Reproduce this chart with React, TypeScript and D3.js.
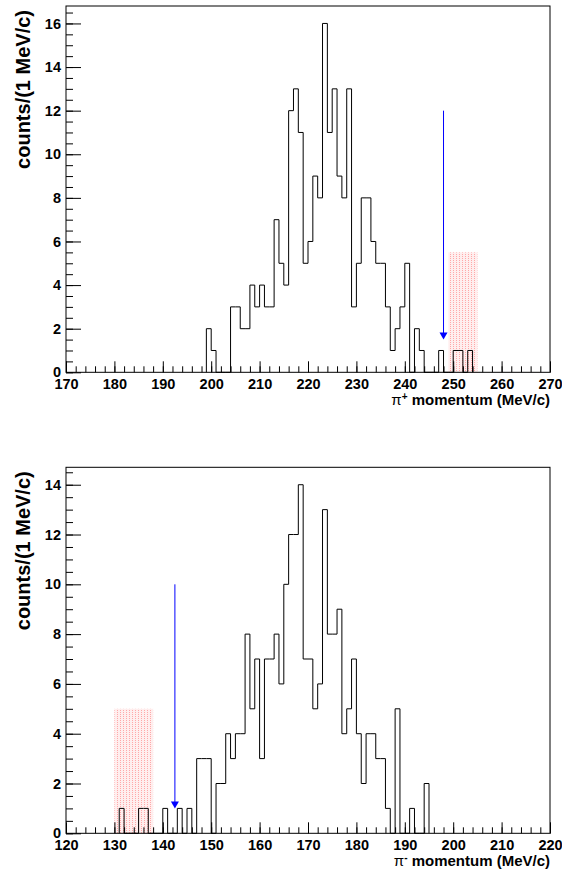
import React, { useEffect, useRef } from 'react';
import * as d3 from 'd3';

// pi+ spectrum, 1 MeV/c bins, first bin starts at 199 MeV/c
const plusFirstBin = 199;
const plusCounts = [2, 1, 0, 0, 0, 3, 3, 2, 2, 4, 3, 4, 3, 3, 7, 5, 4, 12, 13, 11, 5, 6, 9, 8, 16, 11, 13, 9, 8, 13, 3, 5, 8, 8, 6, 5, 5, 3, 1, 2, 3, 5, 0, 2, 1, 0, 0, 0, 1, 0, 0, 1, 1, 0, 1];
const plusRange = [170, 270];
const plusBox = [249, 255, 5.5]; // from, to, height
const plusArrow = [248, 12, 1.5]; // x, from, to

// pi- spectrum, first bin starts at 131 MeV/c
const minusFirstBin = 131;
const minusCounts = [1, 0, 0, 0, 1, 1, 0, 0, 0, 1, 0, 0, 1, 0, 1, 0, 3, 3, 3, 0, 2, 2, 4, 3, 4, 4, 8, 5, 7, 3, 7, 7, 8, 6, 10, 12, 12, 14, 7, 7, 5, 6, 13, 8, 8, 9, 4, 5, 7, 4, 2, 4, 4, 3, 3, 1, 0, 5, 0, 0, 1, 0, 0, 2];
const minusRange = [120, 220];
const minusBox = [130, 138, 5];
const minusArrow = [142.5, 10, 1];

const yTitle = 'counts/(1 MeV/c)';

const FONT = "'Liberation Sans', Arial, Helvetica, sans-serif";

type Panel = {
  first: number;
  counts: number[];
  range: number[];
  box: number[];
  arrow: number[];
  sup: string;
  top: number;
  bottom: number;
};

const App = () => {
  const ref = useRef<SVGSVGElement>(null);

  useEffect(() => {
    const svg = d3.select(ref.current);
    svg.selectAll('*').remove();

    const left = 66;
    const right = 550;

    // ROOT-like dotted fill
    const defs = svg.append('defs');
    const pat = defs.append('pattern')
      .attr('id', 'dots')
      .attr('width', 3)
      .attr('height', 2)
      .attr('patternUnits', 'userSpaceOnUse');
    pat.append('rect').attr('width', 3).attr('height', 2).attr('fill', '#ffeeee');
    pat.append('rect').attr('width', 1).attr('height', 1).attr('fill', '#ffa8a8');

    const panels: Panel[] = [
      { first: plusFirstBin, counts: plusCounts, range: plusRange, box: plusBox, arrow: plusArrow, sup: '+', top: 6, bottom: 372.3 },
      { first: minusFirstBin, counts: minusCounts, range: minusRange, box: minusBox, arrow: minusArrow, sup: '-', top: 467.3, bottom: 833.3 },
    ];

    panels.forEach(p => {
      const g = svg.append('g');
      const maxCount = d3.max(p.counts) as number;

      const x = d3.scaleLinear().domain(p.range).range([left, right]);
      const y = d3.scaleLinear().domain([0, maxCount * 1.05]).range([p.bottom, p.top]);

      // shaded signal region
      g.append('rect')
        .attr('x', x(p.box[0]))
        .attr('y', y(p.box[2]))
        .attr('width', x(p.box[1]) - x(p.box[0]))
        .attr('height', y(0) - y(p.box[2]))
        .attr('fill', 'url(#dots)');

      // histogram outline
      const pts: [number, number][] = [[p.first, 0]];
      p.counts.forEach((c, i) => pts.push([p.first + i, c]));
      pts.push([p.first + p.counts.length, 0]);
      const line = d3.line<[number, number]>()
        .x(d => x(d[0]))
        .y(d => y(d[1]))
        .curve(d3.curveStepAfter);
      g.append('path')
        .attr('d', line(pts))
        .attr('fill', 'none')
        .attr('stroke', '#000')
        .attr('stroke-width', 1);

      // arrow
      const ax = x(p.arrow[0]);
      const ay1 = y(p.arrow[1]);
      const ay2 = y(p.arrow[2]);
      g.append('line')
        .attr('x1', ax).attr('x2', ax)
        .attr('y1', ay1).attr('y2', ay2 - 6)
        .attr('stroke', '#0000ff')
        .attr('stroke-width', 1);
      g.append('path')
        .attr('d', `M${ax - 4},${ay2 - 7}L${ax + 4},${ay2 - 7}L${ax},${ay2}Z`)
        .attr('fill', '#0000ff');

      // frame
      g.append('rect')
        .attr('x', left)
        .attr('y', p.top)
        .attr('width', right - left)
        .attr('height', p.bottom - p.top)
        .attr('fill', 'none')
        .attr('stroke', '#000')
        .attr('stroke-width', 1);

      // x axis ticks (inward)
      const xMinor = g.append('g')
        .attr('transform', `translate(0,${p.bottom})`)
        .call(d3.axisBottom(x).tickValues(d3.range(p.range[0], p.range[1] + 1, 2)).tickSize(-6).tickSizeOuter(0).tickFormat(() => ''));
      xMinor.select('.domain').remove();
      const xMajor = g.append('g')
        .attr('transform', `translate(0,${p.bottom})`)
        .call(d3.axisBottom(x).tickValues(d3.range(p.range[0], p.range[1] + 1, 10)).tickSize(-11).tickSizeOuter(0).tickPadding(6).tickFormat(d3.format('d')));
      xMajor.select('.domain').remove();
      xMajor.selectAll('text')
        .attr('font-family', FONT)
        .attr('font-weight', 'bold')
        .attr('font-size', 14.5)
        .attr('fill', '#000');

      // y axis ticks (inward)
      const yMinor = g.append('g')
        .attr('transform', `translate(${left},0)`)
        .call(d3.axisLeft(y).tickValues(d3.range(0, maxCount * 1.05, 0.5)).tickSize(-7).tickSizeOuter(0).tickFormat(() => ''));
      yMinor.select('.domain').remove();
      const yMajor = g.append('g')
        .attr('transform', `translate(${left},0)`)
        .call(d3.axisLeft(y).tickValues(d3.range(0, maxCount + 1, 2)).tickSize(-15).tickSizeOuter(0).tickPadding(5).tickFormat(d3.format('d')));
      yMajor.select('.domain').remove();
      yMajor.selectAll('text')
        .attr('font-family', FONT)
        .attr('font-weight', 'bold')
        .attr('font-size', 14.5)
        .attr('fill', '#000');

      // axis titles
      const xt = g.append('text')
        .attr('x', right)
        .attr('y', p.bottom + 33)
        .attr('text-anchor', 'end')
        .attr('font-family', FONT)
        .attr('font-weight', 'bold')
        .attr('font-size', 15);
      xt.append('tspan').attr('font-weight', 'normal').text('π');
      xt.append('tspan').attr('baseline-shift', 'super').attr('font-size', 10).text(p.sup);
      xt.append('tspan').text(' momentum (MeV/c)');

      g.append('text')
        .attr('transform', `translate(30,${p.top + 4}) rotate(-90)`)
        .attr('text-anchor', 'end')
        .attr('font-family', FONT)
        .attr('font-weight', 'bold')
        .attr('font-size', 20)
        .text(yTitle);
    });
  }, []);

  return (
    <svg
      ref={ref}
      width={562}
      height={876}
      style={{ position: 'absolute', left: 0, top: 0, background: '#fff' }}
    />
  );
};

export default App;
